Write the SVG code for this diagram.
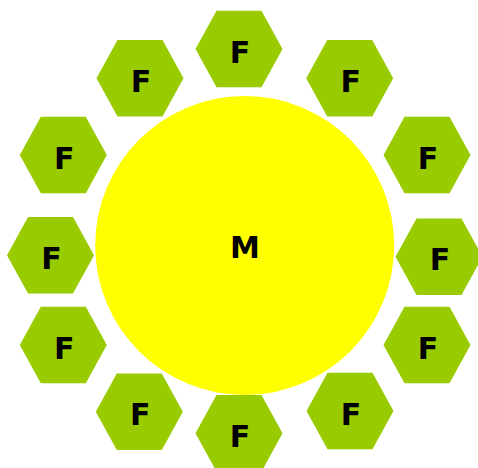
<svg xmlns="http://www.w3.org/2000/svg" width="478" height="468" viewBox="0 0 478 468">
<defs>
<style>
.hex{fill:#99cc00;}
.lbl{font-family:"DejaVu Sans",Verdana,sans-serif;font-weight:bold;font-size:30px;fill:#000;text-anchor:middle;}
</style>
<polygon id="hx" class="hex" points="-43.5,0 -22.5,-38.3 22.5,-38.3 43.5,0 22.5,38.3 -22.5,38.3"/>
</defs>
<rect width="478" height="468" fill="#fff"/>
<g id="connectors"/>
<g id="M"><circle cx="244.7" cy="245.5" r="149.5" fill="#ffff00"/><text class="lbl" x="245" y="258">M</text></g>
<g id="F1" transform="translate(239,49)"><use href="#hx"/><text class="lbl" x="1" y="13.5">F</text></g>
<g id="F2" transform="translate(349.7,78.3)"><use href="#hx"/><text class="lbl" x="1" y="13.5">F</text></g>
<g id="F3" transform="translate(140,78.3)"><use href="#hx"/><text class="lbl" x="1" y="13.5">F</text></g>
<g id="F4" transform="translate(427,155)"><use href="#hx"/><text class="lbl" x="1" y="13.5">F</text></g>
<g id="F5" transform="translate(63.3,155)"><use href="#hx"/><text class="lbl" x="1" y="13.5">F</text></g>
<g id="F6" transform="translate(439,256.7)"><use href="#hx"/><text class="lbl" x="1" y="13.5">F</text></g>
<g id="F7" transform="translate(50.5,255.3)"><use href="#hx"/><text class="lbl" x="1" y="13.5">F</text></g>
<g id="F8" transform="translate(427,345)"><use href="#hx"/><text class="lbl" x="1" y="13.5">F</text></g>
<g id="F9" transform="translate(63.3,345)"><use href="#hx"/><text class="lbl" x="1" y="13.5">F</text></g>
<g id="F10" transform="translate(350,411)"><use href="#hx"/><text class="lbl" x="1" y="13.5">F</text></g>
<g id="F11" transform="translate(139.3,411.7)"><use href="#hx"/><text class="lbl" x="1" y="13.5">F</text></g>
<g id="F12" transform="translate(239,433.3)"><use href="#hx"/><text class="lbl" x="1" y="13.5">F</text></g>
</svg>
